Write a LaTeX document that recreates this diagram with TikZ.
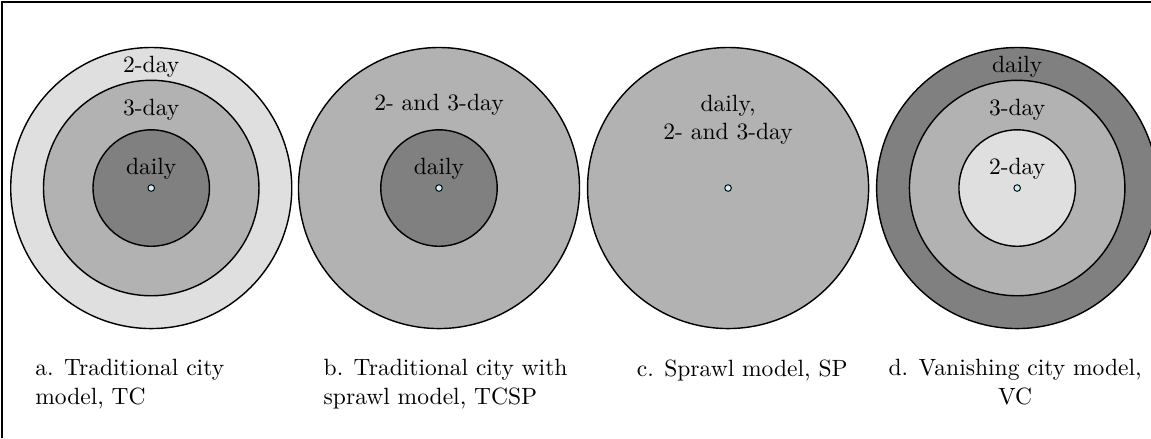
\documentclass[tikz,border=0pt]{standalone}
\usepackage{tikz}
\begin{document}
\begin{tikzpicture}[ring/.style = {draw, line width=0.6pt}, dot/.style = {draw, circle, fill=cyan!20, inner sep=0pt, minimum size=2.8pt}, lbl/.style = {anchor=base, inner sep=0pt, align=center}, capnode/.style = {anchor=base west, inner sep=0pt, align=left}]
\useasboundingbox (0,0) rectangle (17.2,6.55);
\draw[line width=0.8pt] (0.03,0) -- (0.03,6.52) -- (17.2,6.52);
\coordinate (a) at (2.26,3.74);
\coordinate (b) at (6.56,3.74);
\coordinate (c) at (10.88,3.74);
\coordinate (d) at (15.2,3.74);
\filldraw[ring, fill=gray!25] (a) circle (2.1);
\filldraw[ring, fill=gray!60] (a) circle (1.61);
\filldraw[ring, fill=gray] (a) circle (0.87);
\filldraw[ring, fill=gray!60] (b) circle (2.1);
\filldraw[ring, fill=gray] (b) circle (0.87);
\filldraw[ring, fill=gray!60] (c) circle (2.1);
\filldraw[ring, fill=gray] (d) circle (2.1);
\filldraw[ring, fill=gray!60] (d) circle (1.61);
\filldraw[ring, fill=gray!25] (d) circle (0.87);
\node[dot] (a0) at (a) {};
\node[dot] (b0) at (b) {};
\node[dot] (c0) at (c) {};
\node[dot] (d0) at (d) {};
\node[lbl] (a1) at ([yshift=1.72cm]a) {2-day};
\node[lbl] (a2) at ([yshift=1.09cm]a) {3-day};
\node[lbl] (a3) at ([yshift=0.2cm]a) {daily};
\node[lbl] (b1) at ([yshift=1.16cm]b) {2- and 3-day};
\node[lbl] (b2) at ([yshift=0.2cm]b) {daily};
\node[lbl] (c1) at ([yshift=0.72cm]c) {daily,\\ 2- and 3-day};
\node[lbl] (d1) at ([yshift=1.72cm]d) {daily};
\node[lbl] (d2) at ([yshift=1.09cm]d) {3-day};
\node[lbl] (d3) at ([yshift=0.2cm]d) {2-day};
\node[capnode] (acap) at (0.52,0.51) {a. Traditional city\\ model, TC};
\node[capnode] (bcap) at (4.83,0.51) {b. Traditional city with\\ sprawl model, TCSP};
\node[capnode] (ccap) at (9.51,0.93) {c. Sprawl model, SP};
\node[capnode, anchor=base, align=center] (dcap) at (15.17,0.51) {d. Vanishing city model,\\ VC};
\end{tikzpicture}
\end{document}
